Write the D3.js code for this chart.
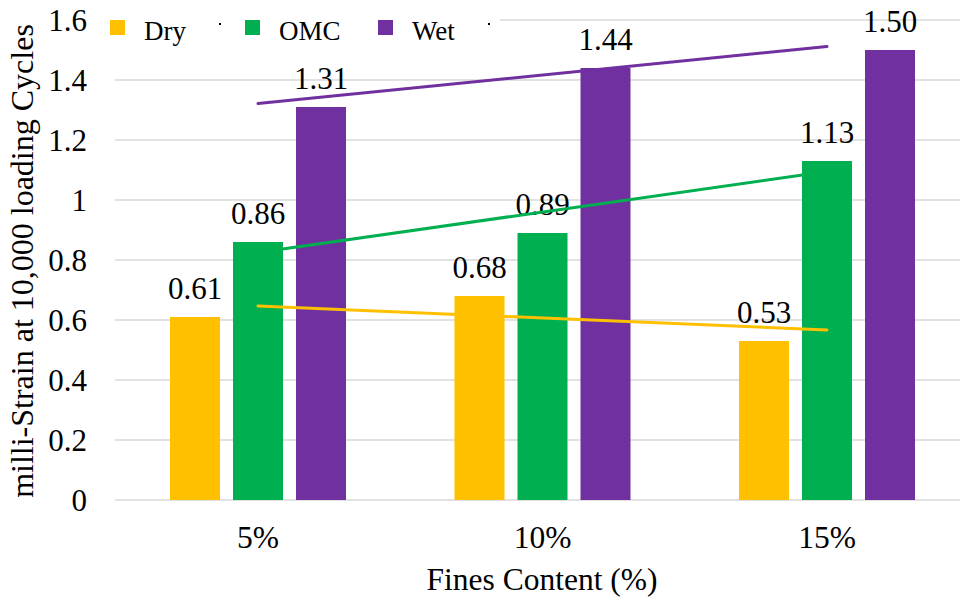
<!DOCTYPE html>
<html>
<head>
<meta charset="utf-8">
<script src="https://cdn.jsdelivr.net/npm/d3@7"></script>
<style>
  html, body { margin: 0; padding: 0; background: #fff; }
  svg { display: block; }
  svg text { font-family: "Liberation Serif", "Times New Roman", serif; }
</style>
</head>
<body>
<svg id="chart" width="960" height="597"></svg>
<script>
// Fines content groups and measured milli-strain per moisture condition
const categories = ["5%", "10%", "15%"];
const seriesNames = ["Dry", "OMC", "Wet"];
const dryValues = [0.61, 0.68, 0.53];
const omcValues = [0.86, 0.89, 1.13];
const wetValues = [1.31, 1.44, 1.50];
const yTicks = [0, 0.2, 0.4, 0.6, 0.8, 1, 1.2, 1.4, 1.6];
const colors = ["#FFC000", "#00B050", "#7030A0"];
const FONT = "'Liberation Serif', 'Times New Roman', serif";

const series = [
  { name: seriesNames[0], values: dryValues, color: colors[0] },
  { name: seriesNames[1], values: omcValues, color: colors[1] },
  { name: seriesNames[2], values: wetValues, color: colors[2] }
];

const svg = d3.select("#chart");
const plotLeft = 115, plotTop = 20, plotBottom = 500;

const y = d3.scaleLinear().domain([0, 1.6]).range([plotBottom, plotTop]);
const x0 = d3.scaleBand().domain(categories).range([115.75, 969.25])
  .paddingInner(1 - 176 / 284.5).paddingOuter((1 - 176 / 284.5) / 2);
const x1 = d3.scaleBand().domain(seriesNames).range([0, x0.bandwidth()])
  .paddingInner(13 / 63).paddingOuter(0);

// Horizontal gridlines
svg.append("g").selectAll("line").data(yTicks).join("line")
  .attr("x1", plotLeft).attr("x2", 960)
  .attr("y1", d => y(d)).attr("y2", d => y(d))
  .attr("stroke", "#D9D9D9").attr("stroke-width", 1.5);

// Y tick labels
const yAxis = d3.axisLeft(y).tickValues(yTicks).tickSize(0).tickPadding(0)
  .tickFormat(d => d3.format("~g")(d));
const yg = svg.append("g").attr("transform", "translate(87,0)").call(yAxis)
  .attr("font-family", FONT);
yg.select(".domain").remove();
yg.selectAll("text").attr("font-size", 31).attr("fill", "#000")
  .attr("font-family", FONT).attr("dy", "0.34em");

// Bars
const groups = svg.append("g").selectAll("g").data(categories).join("g")
  .attr("transform", c => `translate(${x0(c)},0)`);
groups.selectAll("rect")
  .data((c, i) => series.map(s => ({ name: s.name, value: s.values[i], color: s.color })))
  .join("rect")
  .attr("x", d => x1(d.name)).attr("width", x1.bandwidth())
  .attr("y", d => y(d.value)).attr("height", d => y(0) - y(d.value))
  .attr("fill", d => d.color);

// Value labels
groups.selectAll("text.val")
  .data((c, i) => series.map(s => ({ name: s.name, value: s.values[i] })))
  .join("text").attr("class", "val")
  .attr("x", d => x1(d.name) + x1.bandwidth() / 2)
  .attr("y", d => y(d.value) - 18)
  .attr("text-anchor", "middle").attr("font-size", 31).attr("fill", "#000")
  .attr("font-family", FONT)
  .text(d => d.value.toFixed(2));

// Linear trendlines (least squares over category index)
const xc = c => x0(c) + x0.bandwidth() / 2;
series.forEach(s => {
  const n = s.values.length;
  const xs = d3.range(1, n + 1);
  const mx = d3.mean(xs), my = d3.mean(s.values);
  const slope = d3.sum(xs, (xi, i) => (xi - mx) * (s.values[i] - my)) /
                d3.sum(xs, xi => (xi - mx) * (xi - mx));
  const fit = xi => my + slope * (xi - mx);
  svg.append("line")
    .attr("x1", xc(categories[0])).attr("y1", y(fit(1)))
    .attr("x2", xc(categories[n - 1])).attr("y2", y(fit(n)))
    .attr("stroke", s.color).attr("stroke-width", 3).attr("stroke-linecap", "round");
});

// X category labels
const xAxis = d3.axisBottom(x0).tickSize(0).tickPadding(0);
const xg = svg.append("g").attr("transform", `translate(0,${plotBottom})`).call(xAxis)
  .attr("font-family", FONT);
xg.select(".domain").remove();
xg.selectAll("text").attr("font-size", 31.5).attr("fill", "#000")
  .attr("font-family", FONT).attr("y", 48).attr("dy", 0);

// Axis titles
svg.append("text").attr("x", 542).attr("y", 590).attr("text-anchor", "middle")
  .attr("font-size", 31.5).attr("font-family", FONT).text("Fines Content (%)");
svg.append("text").attr("transform", "translate(33,261) rotate(-90)")
  .attr("text-anchor", "middle").attr("font-size", 32).attr("font-family", FONT)
  .text("milli-Strain at 10,000 loading Cycles");

// Legend
const legend = svg.append("g");
legend.append("rect").attr("x", 100).attr("y", 4).attr("width", 400).attr("height", 42).attr("fill", "#fff");
const legendX = [110, 245, 378];
series.forEach((s, i) => {
  legend.append("rect").attr("x", legendX[i]).attr("y", 20).attr("width", 15).attr("height", 15).attr("fill", s.color);
  legend.append("text").attr("x", legendX[i] + 34).attr("y", 40).attr("font-size", 27)
    .attr("font-family", FONT).text(s.name);
});
[219, 488].forEach(dx => {
  legend.append("rect").attr("x", dx).attr("y", 23).attr("width", 2).attr("height", 2).attr("fill", "#000");
});
</script>
</body>
</html>
